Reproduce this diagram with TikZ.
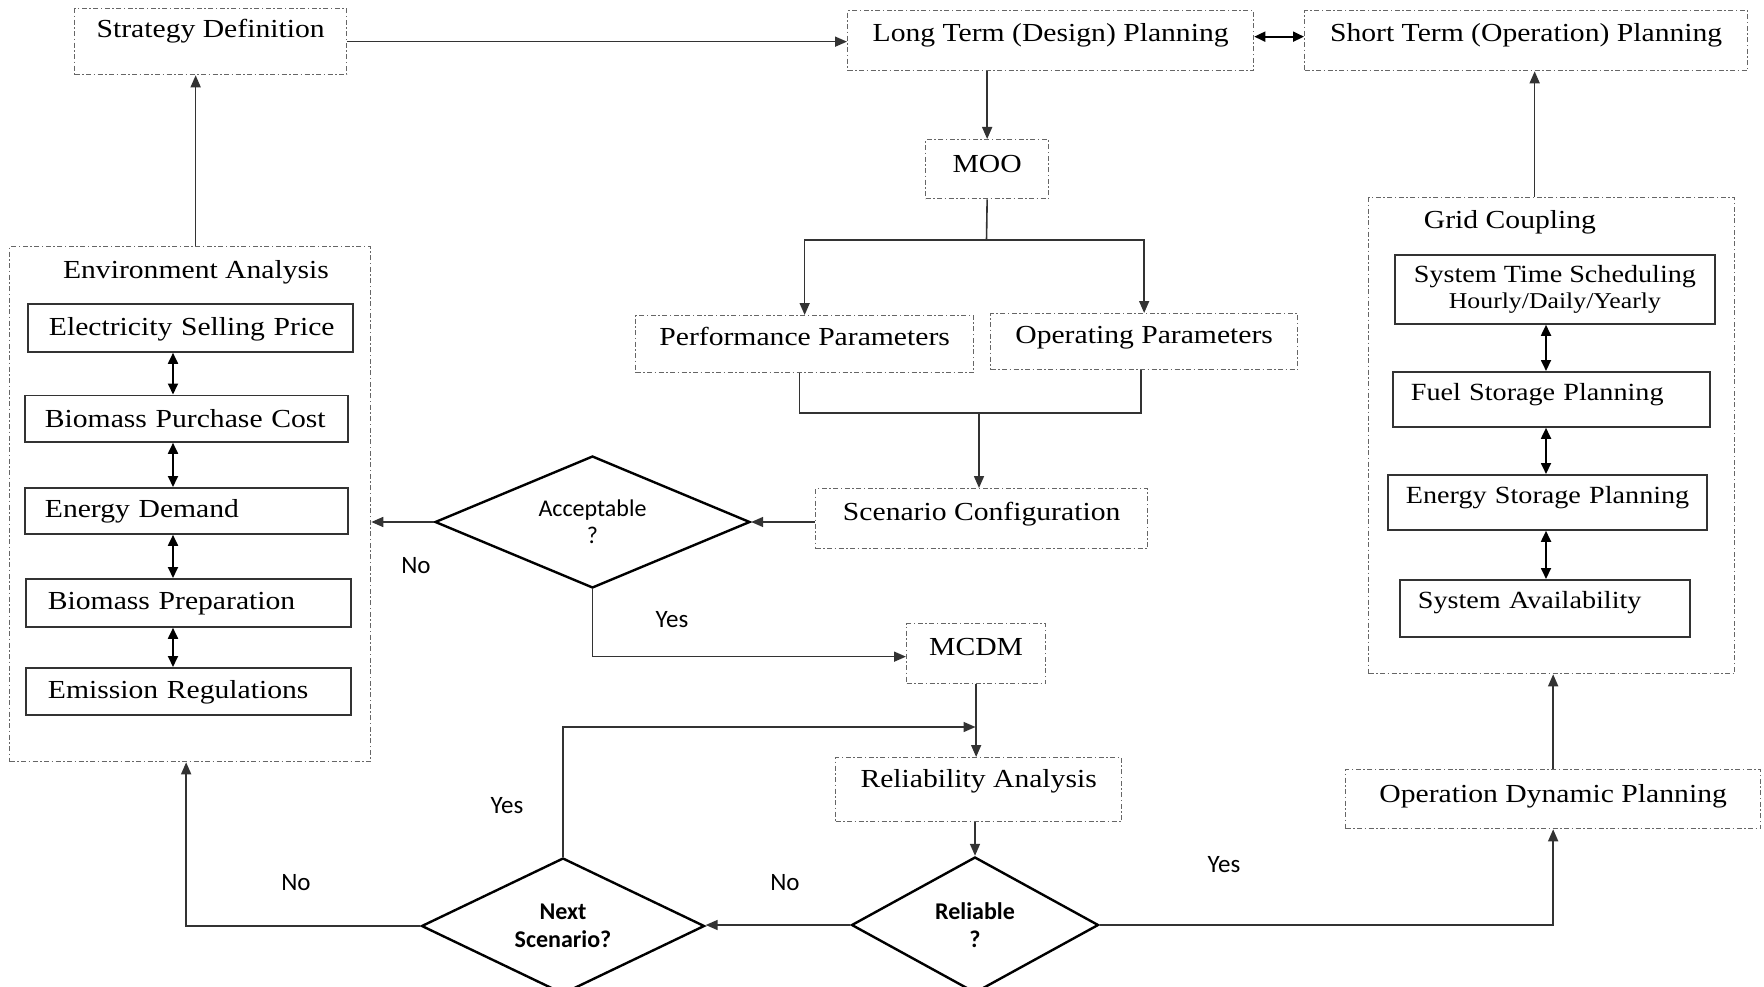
\documentclass[tikz,border=0pt]{standalone}
\usepackage{fontspec}
\setmainfont{Liberation Serif}[FakeStretch=1.14]
\newfontfamily\calibfam{Carlito}
\usetikzlibrary{shapes.geometric,arrows.meta}
\newcommand\calibr{\calibfam\fontsize{25}{28}\selectfont}
\newcommand\calibd{\calibfam\fontsize{24}{27}\selectfont}
\newcommand\calibb{\calibfam\bfseries\fontsize{24}{28}\selectfont}
\begin{document}
\begin{tikzpicture}[x=1pt,y=-1pt,font=\fontsize{26}{30}\selectfont,
					dbox/.style={draw=black!60,dash pattern=on 5pt off 2.5pt on 1.5pt off 2.5pt,line width=1.3pt,inner sep=0pt,anchor=north west},
					sbox/.style={draw=black!80,line width=1.8pt,inner sep=0pt,anchor=north west},
					gfont/.style={font=\fontsize{24.7}{28}\selectfont},
					geo/.style n args={3}{minimum width=#1pt,text height=#2pt,text depth=#3pt},
					lgeo/.style n args={4}{text width=#1pt,text height=#2pt,text depth=#3pt,align=left,execute at begin node={\noindent\hspace*{#4pt}}},
					dec/.style={diamond,draw,line width=2.4pt,inner sep=0pt,align=center},
					lbl/.style={font=\calibr,anchor=base},
					arr/.style={-{Triangle[length=12pt,width=10pt]},line width=1.6pt,draw=black!80},
					dbl/.style={{Triangle[length=11pt,width=10pt]}-{Triangle[length=11pt,width=10pt]},line width=1.8pt},
					ln/.style={line width=1.6pt,draw=black!80}]
	\useasboundingbox (0,0) rectangle (1764,987);
	\node[dbox,geo={272}{29}{37}] (strat) at (74,8) {Strategy Definition};
	\node[dbox,geo={406}{31}{29}] (lterm) at (847,10) {Long Term (Design) Planning};
	\node[dbox,geo={443}{31}{29}] (sterm) at (1304,10) {Short Term (Operation) Planning};
	\node[dbox,geo={123}{33}{26}] (moo) at (925,139) {MOO};
	\node[dbox,geo={338}{30}{27}] (perf) at (635,315) {Performance Parameters};
	\node[dbox,geo={307}{30}{26}] (oper) at (990,313) {Operating Parameters};
	\node[dbox,geo={332}{32}{28}] (scen) at (815,488) {Scenario Configuration};
	\node[dbox,geo={139}{32}{28}] (mcdm) at (906,623) {MCDM};
	\node[dbox,geo={286}{30}{34}] (rel) at (835,757) {Reliability Analysis};
	\node[dbox,geo={415}{33}{26}] (opd) at (1345,769) {Operation Dynamic Planning};
	\node[dbox,minimum width=361pt,minimum height=515pt] (env) at (9,246) {};
	\node[anchor=base] (envlbl) at (196,278) {Environment Analysis};
	\node[sbox,lgeo={325}{32}{16}{21}] (esp) at (27,303) {Electricity Selling Price};
	\node[sbox,lgeo={323}{32}{14.5}{20}] (bpc) at (24,394.5) {Biomass Purchase Cost};
	\node[sbox,lgeo={323}{30}{16}{20}] (edem) at (24,487) {Energy Demand};
	\node[sbox,lgeo={325}{31}{17}{22}] (bprep) at (25,578) {Biomass Preparation};
	\node[sbox,lgeo={325}{31}{16}{22}] (ereg) at (25,667) {Emission Regulations};
	\node[dbox,minimum width=366pt,minimum height=476pt] (grid) at (1368,197) {};
	\node[anchor=base] (gridlbl) at (1510,229) {Grid Coupling};
	\node[sbox,gfont,minimum width=320pt,minimum height=69pt,align=center] (sts) at (1394,254) {System Time Scheduling\\[-2pt]{\fontsize{22.6}{26}\selectfont Hourly/Daily/Yearly}};
	\node[sbox,gfont,lgeo={317}{29}{26}{18}] (fsp) at (1392,371) {Fuel Storage Planning};
	\node[sbox,gfont,lgeo={319}{29}{26}{18}] (estor) at (1387,474) {Energy Storage Planning};
	\node[sbox,gfont,lgeo={290}{29}{28}{18}] (sa) at (1399,579) {System Availability};
	\node[dec,font=\calibd,aspect=2.4,minimum width=315pt,minimum height=132pt] (acc) at (592.5,522) {Acceptable\\?};
	\node[dec,font=\calibb,aspect=1.8,minimum width=247pt,minimum height=136pt] (rdec) at (975,925) {Reliable\\?};
	\node[dec,font=\calibb,aspect=2.1,minimum width=283pt,minimum height=136pt] (next) at (563,926) {Next\\Scenario?};
	\node[lbl] (no1) at (416,573) {No};
	\node[lbl] (yes1) at (672,627) {Yes};
	\node[lbl] (yes2) at (507,813) {Yes};
	\node[lbl] (no2) at (296,890) {No};
	\node[lbl] (no3) at (785,890) {No};
	\node[lbl] (yes3) at (1224,872) {Yes};
	\coordinate (mfork) at (986.5,240);
	\coordinate (sjoin) at (979,413);
	\coordinate (rloop) at (975.5,727);
	\coordinate (gtop) at ([xshift=-17pt]grid.north);
	\coordinate (etop) at ([xshift=5.5pt]env.north);
	\coordinate (eax) at (173,0);
	\coordinate (gax) at (1546,0);
	\draw[arr] (strat.east) -- (strat.east -| lterm.west);
	\draw[dbl] ([yshift=4pt]lterm.east) -- ([yshift=4pt]sterm.west);
	\draw[arr] (moo.north |- lterm.south) -- (moo.north);
	\draw[ln] (moo.south) -- (mfork);
	\draw[arr] (mfork) -| (perf.north);
	\draw[arr] (mfork) -| (oper.north);
	\draw[ln] ([xshift=-5pt]perf.south) |- (sjoin) -| ([xshift=-3pt]oper.south);
	\draw[arr] (sjoin) -- (sjoin |- scen.north);
	\draw[arr] (scen.west |- acc.east) -- (acc.east);
	\draw[arr] (acc.west) -- (acc.west -| env.east);
	\draw[arr] (acc.south) |- ([yshift=-3pt]mcdm.west);
	\draw[arr] (mcdm.south) -- (mcdm.south |- rel.north);
	\draw[arr] (next.north) |- (rloop);
	\draw[arr] (rdec.north |- rel.south) -- (rdec.north);
	\draw[arr] (rdec.west) -- (rdec.west -| next.east);
	\draw[arr] (next.west) -| ([xshift=-4pt]env.south);
	\draw[arr] (rdec.east) -| (opd.south);
	\draw[arr] (opd.north) -- (opd.north |- grid.south);
	\draw[arr] (gtop) -- (gtop |- sterm.south);
	\draw[arr] (etop) -- (etop |- strat.south);
	\foreach \a/\b in {esp/bpc,bpc/edem,edem/bprep,bprep/ereg}
		\draw[dbl] (\a.south -| eax) -- (\b.north -| eax);
	\foreach \a/\b in {sts/fsp,fsp/estor,estor/sa}
		\draw[dbl] (\a.south -| gax) -- (\b.north -| gax);
\end{tikzpicture}
\end{document}
